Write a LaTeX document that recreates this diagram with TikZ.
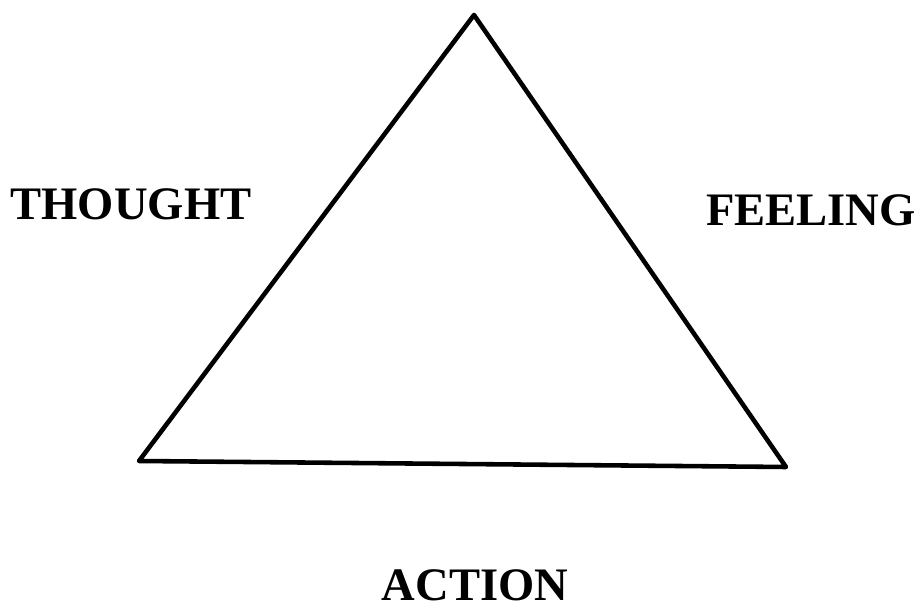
\documentclass[tikz,border=0pt]{standalone}
\usepackage{fontspec}
\setmainfont{Liberation Serif}
\usepackage{tikz}
\usetikzlibrary{positioning}

\tikzset{
  corner/.style={font=\bfseries\fontsize{26.5}{30}\selectfont, inner sep=0pt},
  side/.style={line width=2.6pt, line join=round}
}

\begin{document}
\begin{tikzpicture}[x=0.2mm, y=-0.2mm]
  \useasboundingbox (0,0) rectangle (923,609);
  % triangle corners
  \coordinate (apex) at (474,15);
  \coordinate (left) at (139,461);
  \coordinate (right) at (786,467);
  \draw[side] (apex) -- (left) -- (right) -- cycle;
  % labels
  \node[corner] (thought) at (131,204) {THOUGHT};
  \node[corner] (feeling) at (811,210) {FEELING};
  \node[corner] (action) at (475,585) {ACTION};
\end{tikzpicture}
\end{document}
